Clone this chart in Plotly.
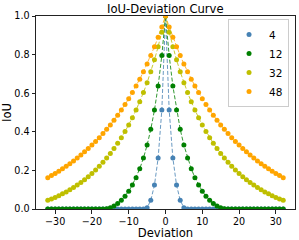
import plotly.graph_objects as go

deviation = list(range(-32, 33))

series_names = ["4", "12", "32", "48"]
series_colors = ["#4682B4", "#008000", "#BFBF00", "#FFA500"]

iou_4 = [0]*27 + [0.0068, 0.0448, 0.1240, 0.2641, 0.5125, 1.0, 0.5125, 0.2641, 0.1240, 0.0448, 0.0068] + [0]*27

iou_12 = [0]*16 + [0.0016, 0.0068, 0.0156, 0.0281, 0.0448, 0.0660, 0.0921, 0.1240, 0.1624, 0.2086,
                   0.2641, 0.3312, 0.4126, 0.5125, 0.6369, 0.7947, 1.0, 0.7947, 0.6369, 0.5125,
                   0.4126, 0.3312, 0.2641, 0.2086, 0.1624, 0.1240, 0.0921, 0.0660, 0.0448, 0.0281,
                   0.0156, 0.0068, 0.0016] + [0]*16

iou_32 = [0.0448, 0.0522, 0.0602, 0.0690, 0.0784, 0.0886, 0.0995, 0.1113, 0.1240, 0.1376,
          0.1521, 0.1677, 0.1844, 0.2023, 0.2215, 0.2421, 0.2641, 0.2878, 0.3132, 0.3405,
          0.3698, 0.4015, 0.4356, 0.4725, 0.5125, 0.5559, 0.6031, 0.6546, 0.7109, 0.7728,
          0.8409, 0.9163, 1.0, 0.9163, 0.8409, 0.7728, 0.7109, 0.6546, 0.6031, 0.5559,
          0.5125, 0.4725, 0.4356, 0.4015, 0.3698, 0.3405, 0.3132, 0.2878, 0.2641, 0.2421,
          0.2215, 0.2023, 0.1844, 0.1677, 0.1521, 0.1376, 0.1240, 0.1113, 0.0995, 0.0886,
          0.0784, 0.0690, 0.0602, 0.0522, 0.0448]

iou_48 = [0.1624, 0.1732, 0.1844, 0.1962, 0.2086, 0.2215, 0.2351, 0.2493, 0.2641, 0.2797,
          0.2961, 0.3132, 0.3312, 0.3500, 0.3698, 0.3907, 0.4126, 0.4356, 0.4599, 0.4855,
          0.5125, 0.5410, 0.5712, 0.6031, 0.6369, 0.6728, 0.7109, 0.7515, 0.7947, 0.8409,
          0.8903, 0.9432, 1.0, 0.9432, 0.8903, 0.8409, 0.7947, 0.7515, 0.7109, 0.6728,
          0.6369, 0.6031, 0.5712, 0.5410, 0.5125, 0.4855, 0.4599, 0.4356, 0.4126, 0.3907,
          0.3698, 0.3500, 0.3312, 0.3132, 0.2961, 0.2797, 0.2641, 0.2493, 0.2351, 0.2215,
          0.2086, 0.1962, 0.1844, 0.1732, 0.1624]

x_ticks = [-30, -20, -10, 0, 10, 20, 30]
y_ticks = [0.0, 0.2, 0.4, 0.6, 0.8, 1.0]

all_series = [iou_4, iou_12, iou_32, iou_48]

FONT = "DejaVu Sans"
fig = go.Figure()

for name, color, ys in zip(series_names, series_colors, all_series):
    fig.add_trace(go.Scatter(
        x=deviation, y=ys, mode="lines", showlegend=False, hoverinfo="skip",
        line=dict(color=color, width=1, dash="4px,2px"), opacity=0.8,
    ))
for name, color, ys in zip(series_names, series_colors, all_series):
    fig.add_trace(go.Scatter(
        x=deviation, y=ys, mode="markers", name=name,
        marker=dict(color=color, size=5, line=dict(width=0)),
    ))

fig.update_layout(
    width=299, height=240,
    margin=dict(l=36, r=4, t=16, b=31, autoexpand=False),
    paper_bgcolor="white", plot_bgcolor="white",
    font=dict(family=FONT, size=10, color="black"),
    title=dict(text="IoU-Deviation Curve", x=0.553, xanchor="center",
               y=0.962, yanchor="middle", yref="container", automargin=False,
               font=dict(family=FONT, size=11.6, color="black")),
    legend=dict(x=0.977, xanchor="right", y=0.985, yanchor="top",
                bgcolor="rgba(255,255,255,0.8)", bordercolor="#cccccc", borderwidth=1,
                font=dict(family=FONT, size=10.5), tracegroupgap=0,
                itemwidth=30),
    showlegend=True,
)

fig.update_xaxes(
    range=[-35.2, 35.2], tickvals=x_ticks, showgrid=False, zeroline=False,
    showline=True, linecolor="#222222", linewidth=1, mirror=True, automargin=False,
    ticks="outside", ticklen=3.5, tickwidth=1, tickcolor="#222222",
    tickfont=dict(family=FONT, size=9.6),
    title=dict(text="Deviation", font=dict(family=FONT, size=11.6), standoff=4),
)
fig.update_yaxes(
    range=[0, 1], tickvals=y_ticks, tickformat=".1f", showgrid=False, zeroline=False,
    showline=True, linecolor="#222222", linewidth=1, mirror=True, automargin=False,
    ticks="outside", ticklen=3.5, tickwidth=1, tickcolor="#222222",
    tickfont=dict(family=FONT, size=9.6),
    title=dict(text="IoU", font=dict(family=FONT, size=11.6), standoff=6),
)

fig.write_html("out.html", config={"displayModeBar": False},
               post_script="document.body.style.margin='0px';document.body.style.overflow='hidden';")
